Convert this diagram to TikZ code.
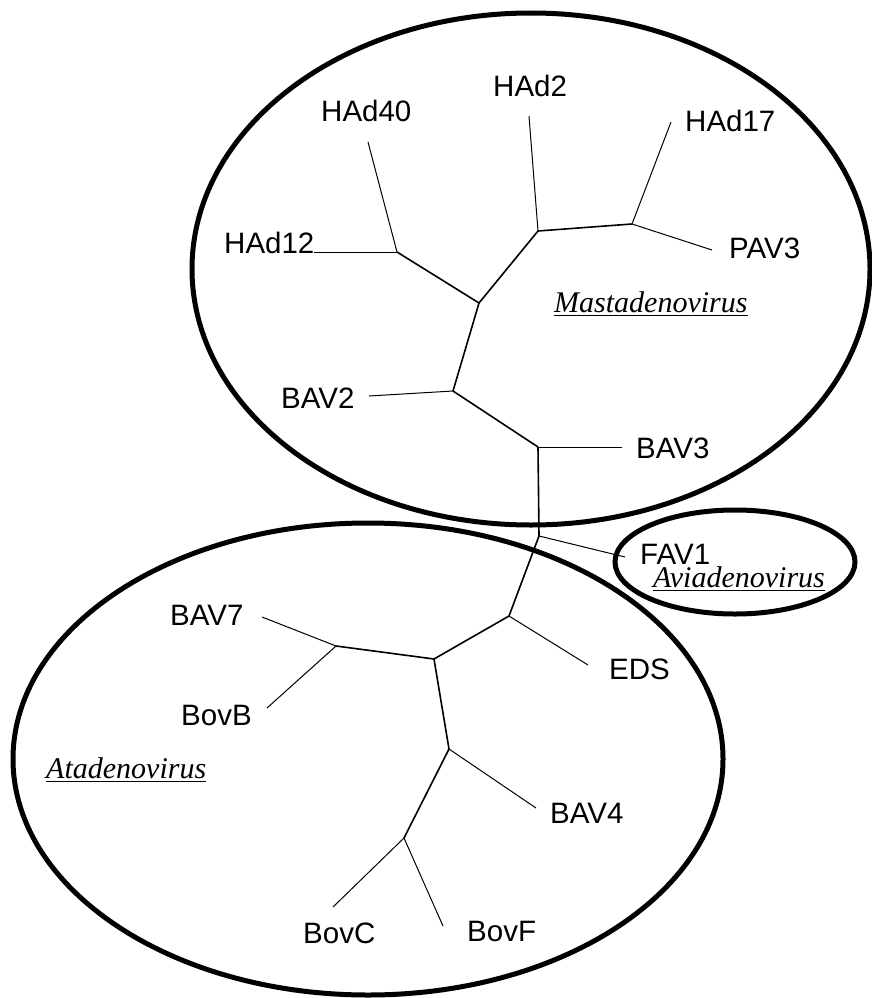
\documentclass[tikz,border=0pt]{standalone}
\usepackage{fontspec}
\setmainfont{Liberation Serif}
\setsansfont{Liberation Sans}
\begin{document}
\begin{tikzpicture}[x=1pt,y=-1pt,
  ring/.style={line width=5pt},
  trunk/.style={line width=1.6pt},
  twig/.style={line width=1pt},
  lbl/.style={anchor=base west,inner sep=0pt,font=\sffamily\fontsize{29.5}{34}\selectfont},
  genus/.style={anchor=base west,inner sep=0pt,font=\itshape\fontsize{30}{36}\selectfont},
  ul/.style={line width=1.3pt}]
\useasboundingbox (0,0) rectangle (871,998);
% clade ellipses
\draw[ring] (531,269) ellipse [x radius=339pt, y radius=256pt];
\draw[ring] (368,759) ellipse [x radius=355pt, y radius=236pt];
\draw[ring] (735,562) ellipse [x radius=120pt, y radius=52pt];
% internal nodes
\coordinate (j1) at (397,252);
\coordinate (j2) at (479,303);
\coordinate (j3) at (538,231);
\coordinate (j4) at (632,224);
\coordinate (j5) at (453,391);
\coordinate (j6) at (538,447);
\coordinate (j7) at (539,536);
\coordinate (j8) at (509,616);
\coordinate (j9) at (434,659);
\coordinate (j10) at (336,646);
\coordinate (j11) at (449,749);
\coordinate (j12) at (404,838);
% leaf ends
\coordinate (lHAd40) at (368,142);
\coordinate (lHAd12) at (314,252);
\coordinate (lHAd2) at (529,116);
\coordinate (lHAd17) at (671,122);
\coordinate (lPAV3) at (712,250);
\coordinate (lBAV2) at (369,396);
\coordinate (lBAV3) at (622,447);
\coordinate (lFAV1) at (625,557);
\coordinate (lEDS) at (588,665);
\coordinate (lBAV7) at (262,617);
\coordinate (lBovB) at (267,708);
\coordinate (lBAV4) at (536,808);
\coordinate (lBovC) at (333,907);
\coordinate (lBovF) at (443,926);
% labels
\node[lbl] (HAd40) at (321,121) {HAd40};
\node[lbl] (HAd2) at (493,96) {HAd2};
\node[lbl] (HAd17) at (685,131) {HAd17};
\node[lbl] (HAd12) at (224,253) {HAd12};
\node[lbl] (PAV3) at (729,258) {PAV3};
\node[lbl] (BAV2) at (281,408) {BAV2};
\node[lbl] (BAV3) at (636,458) {BAV3};
\node[lbl] (FAV1) at (640,564) {FAV1};
\node[lbl] (BAV7) at (170,625) {BAV7};
\node[lbl] (EDS) at (609,679) {EDS};
\node[lbl] (BovB) at (181,725) {BovB};
\node[lbl] (BAV4) at (550,823) {BAV4};
\node[lbl] (BovC) at (303,943) {BovC};
\node[lbl] (BovF) at (467,941) {BovF};
\node[genus] (mast) at (554,312) {Mastadenovirus};
\node[genus] (avia) at (653,587) {Aviadenovirus};
\node[genus] (atad) at (46,778) {Atadenovirus};
\draw[ul] ([yshift=-3.5pt]mast.base west) -- ([yshift=-3.5pt]mast.base east);
\draw[ul] ([yshift=-3.5pt]avia.base west) -- ([yshift=-3.5pt]avia.base east);
\draw[ul] ([yshift=-3.5pt]atad.base west) -- ([yshift=-3.5pt]atad.base east);
% tree: internal branches
\draw[trunk] (j1) -- (j2);
\draw[trunk] (j2) -- (j3);
\draw[trunk] (j3) -- (j4);
\draw[trunk] (j2) -- (j5);
\draw[trunk] (j5) -- (j6);
\draw[trunk] (j6) -- (j7);
\draw[trunk] (j7) -- (j8);
\draw[trunk] (j8) -- (j9);
\draw[trunk] (j9) -- (j10);
\draw[trunk] (j9) -- (j11);
\draw[trunk] (j11) -- (j12);
% tree: leaf branches
\draw[twig] (j1) -- (lHAd40);
\draw[twig] (j1) -- (lHAd12);
\draw[twig] (j3) -- (lHAd2);
\draw[twig] (j4) -- (lHAd17);
\draw[twig] (j4) -- (lPAV3);
\draw[twig] (j5) -- (lBAV2);
\draw[twig] (j6) -- (lBAV3);
\draw[twig] (j7) -- (lFAV1);
\draw[twig] (j8) -- (lEDS);
\draw[twig] (j10) -- (lBAV7);
\draw[twig] (j10) -- (lBovB);
\draw[twig] (j11) -- (lBAV4);
\draw[twig] (j12) -- (lBovC);
\draw[twig] (j12) -- (lBovF);
\end{tikzpicture}
\end{document}
